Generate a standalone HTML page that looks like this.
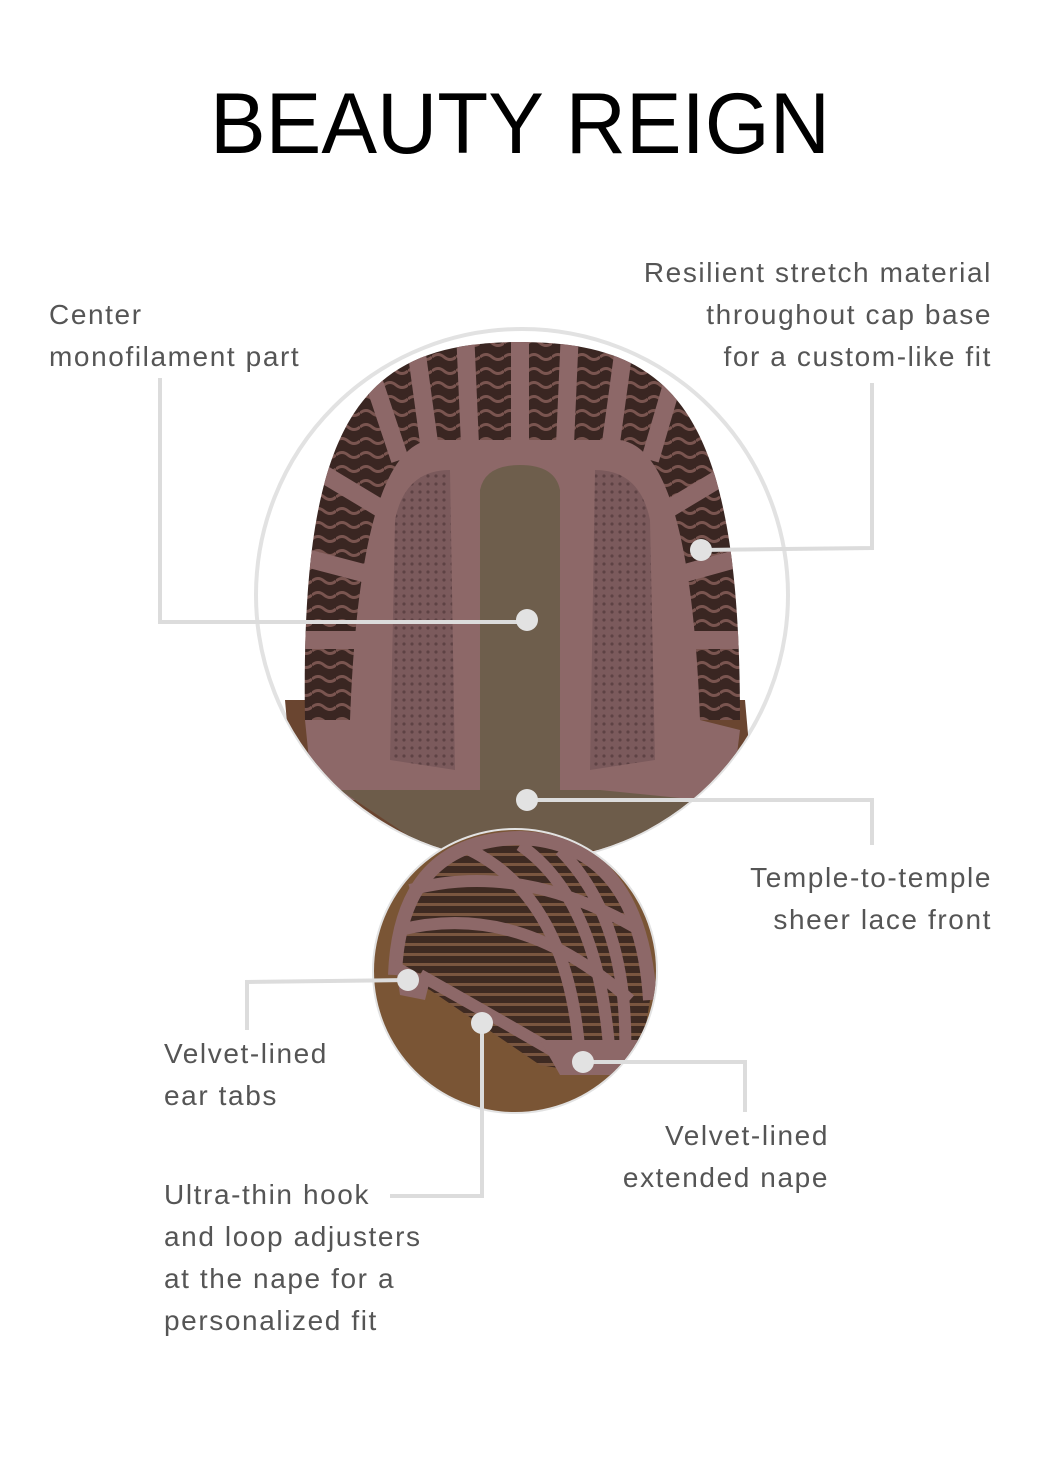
<!DOCTYPE html>
<html><head><style>
html,body{margin:0;padding:0;background:#fff;}
body{width:1042px;height:1458px;position:relative;overflow:hidden;font-family:"Liberation Sans",sans-serif;}
.t{position:absolute;color:#555;font-size:28px;line-height:42px;letter-spacing:1.6px;}
</style></head><body>
<svg width="1042" height="1458" style="position:absolute;left:0;top:0">
<defs>
<clipPath id="c1"><circle cx="522" cy="595" r="266"/></clipPath>
<clipPath id="c2"><circle cx="515" cy="971" r="141"/></clipPath>
<clipPath id="dome"><path d="M305 720 C300 420 360 342 520 342 C680 342 740 420 740 720 Z"/></clipPath>
<pattern id="wv" width="24" height="14" patternUnits="userSpaceOnUse">
<rect width="24" height="14" fill="#3a2622"/>
<path d="M0 7 Q6 2 12 7 T24 7" stroke="#7a5550" stroke-width="3" fill="none"/>
</pattern>
<pattern id="lc" width="8" height="8" patternUnits="userSpaceOnUse">
<rect width="8" height="8" fill="#7b5a5c"/><circle cx="4" cy="4" r="1.6" fill="#5e4244"/>
</pattern>
<pattern id="gr" width="20" height="10" patternUnits="userSpaceOnUse">
<rect width="20" height="10" fill="#3e2a22"/><rect y="3" width="20" height="3" fill="#7a5640"/>
</pattern>
</defs>
<text x="520" y="153" text-anchor="middle" font-family="Liberation Sans" font-size="86" fill="#000" stroke="#fff" stroke-width="5" paint-order="stroke" textLength="620" lengthAdjust="spacingAndGlyphs">BEAUTY REIGN</text>
<circle cx="522" cy="595" r="266" fill="#fff" stroke="#e2e2e2" stroke-width="4"/>
<g clip-path="url(#c1)">
<path d="M285 700 L300 870 L760 870 L745 700 Z" fill="#6a4530"/>
<path d="M305 720 C300 420 360 342 520 342 C680 342 740 420 740 720 Z" fill="url(#wv)"/>
<g clip-path="url(#dome)" stroke="#8d6868" stroke-width="18" fill="none">
<path d="M400 460 L360 340"/><path d="M430 450 L415 340"/><path d="M470 445 L465 330"/><path d="M520 445 L520 330"/>
<path d="M565 445 L570 330"/><path d="M610 450 L625 340"/><path d="M650 460 L685 340"/>
<path d="M400 520 L300 460"/><path d="M390 580 L295 555"/><path d="M385 640 L295 640"/>
<path d="M650 520 L750 460"/><path d="M660 580 L750 555"/><path d="M665 640 L750 640"/>
</g>
<path d="M350 720 Q360 450 430 440 L620 440 Q690 450 700 720 L740 730 L735 770 L720 800 L330 800 L310 770 L305 720 Z" fill="#8d6868"/>
<path d="M390 760 L395 520 Q405 470 450 470 L455 770 Z" fill="url(#lc)"/>
<path d="M590 770 L595 470 Q640 470 650 520 L655 760 Z" fill="url(#lc)"/>
<path d="M480 800 L480 490 Q485 465 520 465 Q555 465 560 490 L560 800 Z" fill="#6e5e4c"/>
<path d="M340 790 L600 790 L700 800 L700 830 L600 850 L430 850 Z" fill="#6d5c4a"/>
</g>
<circle cx="515" cy="971" r="141" fill="#fff" stroke="#e2e2e2" stroke-width="4"/>
<g clip-path="url(#c2)">
<rect x="370" y="830" width="300" height="290" fill="#7a5535"/>
<path d="M395 975 Q400 840 520 838 Q640 842 650 1000 L640 1060 L600 1075 L540 1065 L430 990 Z" fill="url(#gr)"/>
<g stroke="#8d6868" stroke-width="12" fill="none">
<path d="M410 890 Q520 860 640 930"/><path d="M400 930 Q520 900 630 1000"/>
<path d="M520 845 Q600 900 610 1060"/><path d="M560 850 Q630 920 625 1060"/>
<path d="M470 850 Q570 900 580 1060"/><path d="M420 975 Q500 1020 560 1055"/>
<path d="M395 975 Q400 840 520 838 Q640 842 650 1000" stroke-width="14"/>
</g>
<path d="M395 960 L430 980 L425 1000 L400 995 Z" fill="#8d6868"/>
<path d="M540 1040 L640 1040 L640 1075 L560 1075 Z" fill="#8d6868"/>
</g>
<g stroke="#dcdcdc" stroke-width="4" fill="none">
<path d="M160 378 L160 622 L527 622"/>
<path d="M701 550 L872 548 L872 383"/>
<path d="M527 800 L872 800 L872 845"/>
<path d="M408 980 L247 982 L247 1030"/>
<path d="M482 1023 L482 1196 L390 1196"/>
<path d="M583 1062 L745 1062 L745 1112"/>
</g>
<g fill="#e2e2e2">
<circle cx="527" cy="620" r="11"/><circle cx="701" cy="550" r="11"/><circle cx="527" cy="800" r="11"/>
<circle cx="408" cy="980" r="11"/><circle cx="482" cy="1023" r="11"/><circle cx="583" cy="1062" r="11"/>
</g>
</svg>
<div class="t" style="left:49px;top:294px">Center<br>monofilament part</div>
<div class="t" style="right:50px;top:252px;text-align:right">Resilient stretch material<br>throughout cap base<br>for a custom-like fit</div>
<div class="t" style="right:50px;top:857px;text-align:right">Temple-to-temple<br>sheer lace front</div>
<div class="t" style="left:164px;top:1033px">Velvet-lined<br>ear tabs</div>
<div class="t" style="right:213px;top:1115px;text-align:right">Velvet-lined<br>extended nape</div>
<div class="t" style="left:164px;top:1174px">Ultra-thin hook<br>and loop adjusters<br>at the nape for a<br>personalized fit</div>
</body></html>
